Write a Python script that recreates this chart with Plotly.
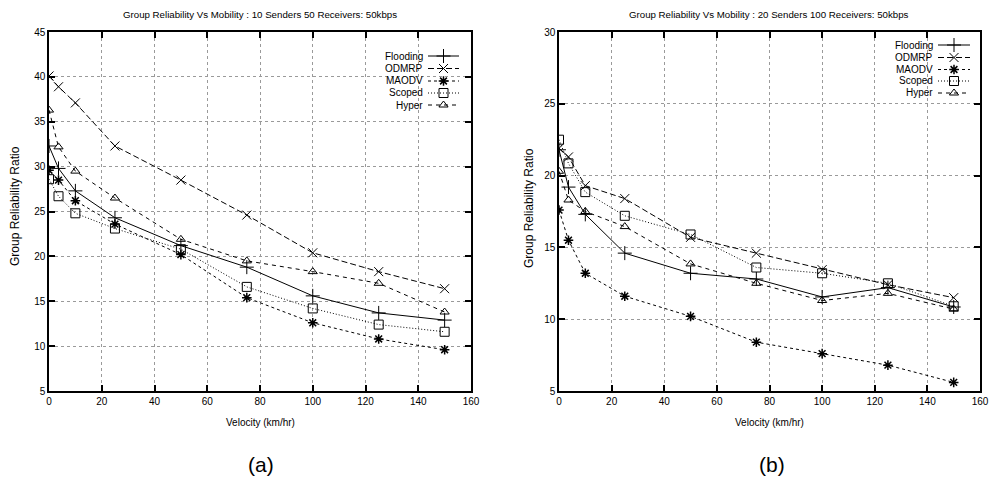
import plotly.graph_objects as go

velocity = [0, 3.6, 10, 25, 50, 75, 100, 125, 150]
series_names = ["Flooding", "ODMRP", "MAODV", "Scoped", "Hyper"]

# Plot (a): 10 senders, 50 receivers
a_flooding = [32.3, 29.8, 27.3, 24.3, 21.2, 18.8, 15.6, 13.7, 12.9]
a_odmrp    = [40.1, 38.9, 37.1, 32.3, 28.5, 24.6, 20.4, 18.3, 16.4]
a_maodv    = [29.6, 28.5, 26.2, 23.6, 20.2, 15.4, 12.6, 10.8, 9.6]
a_scoped   = [28.6, 26.7, 24.8, 23.1, 20.8, 16.6, 14.2, 12.4, 11.6]
a_hyper    = [36.3, 32.2, 29.5, 26.5, 21.9, 19.5, 18.3, 17.0, 13.8]

# Plot (b): 20 senders, 100 receivers
b_flooding = [21.8, 19.2, 17.3, 14.6, 13.2, 12.8, 11.55, 12.2, 10.85]
b_odmrp    = [21.9, 21.3, 19.3, 18.4, 15.7, 14.6, 13.45, 12.4, 11.5]
b_maodv    = [17.6, 15.5, 13.2, 11.6, 10.2, 8.4, 7.6, 6.8, 5.6]
b_scoped   = [22.5, 20.85, 18.85, 17.2, 15.9, 13.6, 13.2, 12.5, 10.9]
b_hyper    = [20.3, 18.3, 17.5, 16.45, 13.85, 12.5, 11.3, 11.8, 10.7]

x_ticks = [0, 20, 40, 60, 80, 100, 120, 140, 160]
a_y_ticks = [5, 10, 15, 20, 25, 30, 35, 40, 45]
b_y_ticks = [5, 10, 15, 20, 25, 30]

title_a = "Group Reliability Vs Mobility : 10 Senders 50 Receivers: 50kbps"
title_b = "Group Reliability Vs Mobility : 20 Senders 100 Receivers: 50kbps"

FONT = "Liberation Sans, Arial, sans-serif"
FS = 10
W, H = 990, 480

def fx(px):
    return px / W

def fy(py):
    return 1 - py / H

# plot-area pixel boxes (left, right, top, bottom) and ranges
A_BOX = (49, 471, 32, 391)
B_BOX = (559, 980, 32, 391)
A_RANGE = ((0, 160), (5, 45))
B_RANGE = ((0, 160), (5, 30))

styles = {
    "Flooding": dict(dash="solid", symbol="cross-thin-open", size=10, lw=1.0),
    "ODMRP": dict(dash="6px,3px", symbol="x-thin-open", size=9, lw=1.0),
    "MAODV": dict(dash="3px,3px", symbol="asterisk-open", size=8, lw=1.5),
    "Scoped": dict(dash="1px,2px", symbol="square-open", size=9, lw=1.0),
    "Hyper": dict(dash="4px,4px", symbol="triangle-up-open", size=8, lw=1.0),
}

fig = go.Figure()

def add_series(data, xa, ya):
    for name, ys in zip(series_names, data):
        s = styles[name]
        fig.add_trace(go.Scatter(
            x=velocity, y=ys, mode="lines+markers", name=name,
            xaxis=xa, yaxis=ya, showlegend=False,
            line=dict(color="black", width=1, dash=s["dash"]),
            marker=dict(symbol=s["symbol"], size=s["size"], color="black",
                        line=dict(color="black", width=s["lw"])),
        ))

add_series([a_flooding, a_odmrp, a_maodv, a_scoped, a_hyper], "x", "y")
add_series([b_flooding, b_odmrp, b_maodv, b_scoped, b_hyper], "x2", "y2")

def px_to_data(box, rng, px, py):
    l, r, t, b = box
    (x0, x1), (y0, y1) = rng
    return x0 + (px - l) / (r - l) * (x1 - x0), y1 - (py - t) / (b - t) * (y1 - y0)

# gnuplot-style key: text right-aligned, sample to its right
def add_key(box, rng, xa, ya, text_right, line_x0, line_x1, rows):
    for name, py in zip(series_names, rows):
        s = styles[name]
        dx0, dy = px_to_data(box, rng, line_x0, py)
        dx1, _ = px_to_data(box, rng, line_x1, py)
        fig.add_trace(go.Scatter(
            x=[dx0, dx1], y=[dy, dy], mode="lines", xaxis=xa, yaxis=ya,
            showlegend=False, hoverinfo="skip", cliponaxis=False,
            line=dict(color="black", width=1, dash=s["dash"])))
        fig.add_trace(go.Scatter(
            x=[(dx0 + dx1) / 2], y=[dy], mode="markers", xaxis=xa, yaxis=ya,
            showlegend=False, hoverinfo="skip", cliponaxis=False,
            marker=dict(symbol=s["symbol"], size=s["size"], color="black",
                        line=dict(color="black", width=s["lw"]))))
        fig.add_annotation(x=fx(text_right), y=fy(py), xref="paper", yref="paper",
                           text=name, showarrow=False, xanchor="right", yanchor="middle",
                           font=dict(family=FONT, size=FS, color="black"))

add_key(A_BOX, A_RANGE, "x", "y", 425, 428, 459, [56, 68.5, 81, 93, 105])
add_key(B_BOX, B_RANGE, "x2", "y2", 935, 938, 970, [45, 57.5, 69.5, 81, 93])

axis_common = dict(showline=True, linecolor="black", linewidth=1.5, mirror="ticks",
                   ticks="inside", ticklen=6, tickwidth=1.5, tickcolor="black",
                   showgrid=True, gridcolor="#9a9a9a", griddash="dot", gridwidth=1,
                   zeroline=False, automargin=False, ticklabeloverflow="allow",
                   tickfont=dict(family=FONT, size=FS, color="black"))

yd = [fy(A_BOX[3]), fy(A_BOX[2])]
fig.update_layout(
    width=W, height=H, margin=dict(l=0, r=0, t=0, b=0, pad=0, autoexpand=False),
    plot_bgcolor="white", paper_bgcolor="white", showlegend=False,
    xaxis=dict(domain=[fx(A_BOX[0]), fx(A_BOX[1])], range=list(A_RANGE[0]), tickvals=x_ticks, anchor="y", **axis_common),
    yaxis=dict(domain=yd, range=list(A_RANGE[1]), tickvals=a_y_ticks, anchor="x", **axis_common),
    xaxis2=dict(domain=[fx(B_BOX[0]), fx(B_BOX[1])], range=list(B_RANGE[0]), tickvals=x_ticks, anchor="y2", **axis_common),
    yaxis2=dict(domain=yd, range=list(B_RANGE[1]), tickvals=b_y_ticks, anchor="x2", **axis_common),
)

def ann(x, y, text, size=FS, angle=0):
    fig.add_annotation(x=fx(x), y=fy(y), xref="paper", yref="paper", text=text,
                       showarrow=False, xanchor="center", yanchor="middle", textangle=angle,
                       font=dict(family=FONT, size=size, color="black"))

ann(260, 14, title_a, size=9.7)
ann(769, 14, title_b, size=9.7)
ann(260, 422, "Velocity (km/hr)")
ann(769, 422, "Velocity (km/hr)")
ann(15, 206, "Group Reliability Ratio", size=12, angle=-90)
ann(529, 208, "Group Reliability Ratio", size=12, angle=-90)
ann(261, 464, "(a)", size=21)
ann(772, 464, "(b)", size=21)

fig.write_html(
    "out.html",
    config={"displayModeBar": False},
    post_script="document.body.style.margin='0';document.body.style.overflow='hidden';"
                "document.documentElement.style.overflow='hidden';",
)
